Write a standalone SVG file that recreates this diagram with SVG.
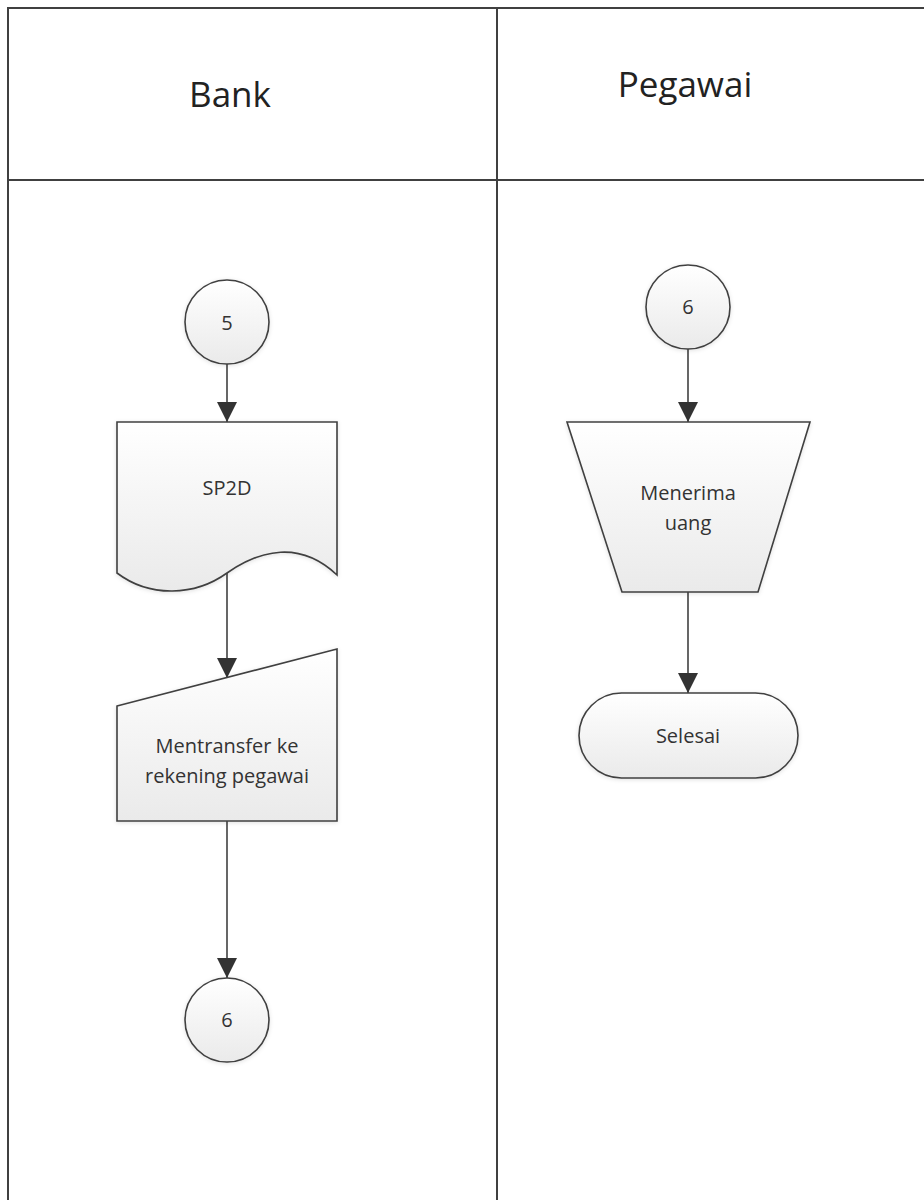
<svg xmlns="http://www.w3.org/2000/svg" width="924" height="1200" viewBox="0 0 924 1200">
<style>
.lane{fill:none;stroke:#404040;stroke-width:2}
.shape{fill:url(#g);stroke:#404040;stroke-width:1.6;filter:url(#sh)}
.hdr{font-family:"Open Sans","Liberation Sans",sans-serif;font-size:35px;fill:#222;text-anchor:middle}
.lbl{font-family:"Open Sans","Liberation Sans",sans-serif;font-size:20px;fill:#333;text-anchor:middle}
.conn{stroke:#404040;stroke-width:1.6;fill:none;marker-end:url(#arr)}
</style>
<defs>
<linearGradient id="g" x1="0" y1="0" x2="0" y2="1">
<stop offset="0" stop-color="#ffffff"/>
<stop offset="1" stop-color="#eaeaea"/>
</linearGradient>
<filter id="sh" x="-10%" y="-10%" width="120%" height="120%">
<feDropShadow dx="0" dy="1" stdDeviation="2" flood-color="#000" flood-opacity="0.12"/>
</filter>
<marker id="arr" viewBox="0 0 10 10" refX="10" refY="5" markerUnits="userSpaceOnUse" markerWidth="20" markerHeight="20" orient="auto">
<path d="M0,0 L10,5 L0,10 Z" fill="#333"/>
</marker>
</defs>
<rect width="924" height="1200" fill="#fff"/>
<g id="lanes">
<path class="lane" d="M8,1200 V8 H924"/>
<path class="lane" d="M497,8 V1200"/>
<path class="lane" d="M8,180 H924"/>
<text class="hdr" x="230" y="107">Bank</text>
<text class="hdr" x="685" y="97">Pegawai</text>
</g>
<g id="connectors">
<line class="conn" x1="227" y1="364" x2="227" y2="422"/>
<line class="conn" x1="227" y1="573" x2="227" y2="678"/>
<line class="conn" x1="227" y1="821" x2="227" y2="978"/>
<line class="conn" x1="688" y1="349" x2="688" y2="422"/>
<line class="conn" x1="688" y1="592" x2="688" y2="693"/>
</g>
<g id="c5">
<circle class="shape" cx="227" cy="322" r="42"/>
<text class="lbl" x="227" y="330">5</text>
</g>
<g id="sp2d">
<path class="shape" d="M117,422 H337 V575 C300,540 260,550 227,573 C195,596 150,598 117,573 Z"/>
<text class="lbl" x="227" y="495">SP2D</text>
</g>
<g id="transfer">
<path class="shape" d="M117,706 L337,649 L337,821 L117,821 Z"/>
<text class="lbl" x="227" y="753">Mentransfer ke</text>
<text class="lbl" x="227" y="783">rekening pegawai</text>
</g>
<g id="c6a">
<circle class="shape" cx="227" cy="1020" r="42"/>
<text class="lbl" x="227" y="1027">6</text>
</g>
<g id="c6b">
<circle class="shape" cx="688" cy="307" r="42"/>
<text class="lbl" x="688" y="314">6</text>
</g>
<g id="menerima">
<path class="shape" d="M567,422 L810,422 L758,592 L622,592 Z"/>
<text class="lbl" x="688" y="500">Menerima</text>
<text class="lbl" x="688" y="530">uang</text>
</g>
<g id="selesai">
<rect class="shape" x="579" y="693" width="219" height="85" rx="42.5"/>
<text class="lbl" x="688" y="743">Selesai</text>
</g>
</svg>
